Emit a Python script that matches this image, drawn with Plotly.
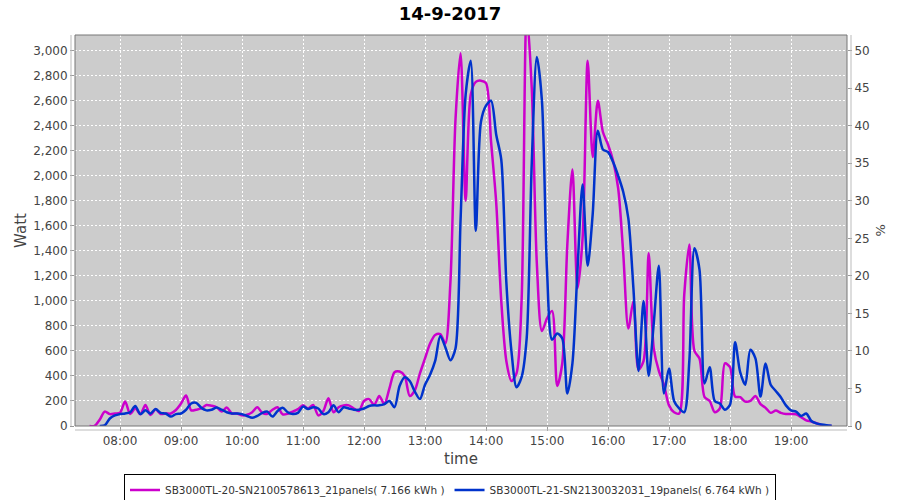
import plotly.graph_objects as go

DAY = "2017-09-14 "

times = [
    "07:30", "07:35", "07:40", "07:45", "07:50", "07:55",
    "08:00", "08:05", "08:10", "08:15", "08:20", "08:25", "08:30", "08:35", "08:40", "08:45", "08:50", "08:55",
    "09:00", "09:05", "09:10", "09:15", "09:20", "09:25", "09:30", "09:35", "09:40", "09:45", "09:50", "09:55",
    "10:00", "10:05", "10:10", "10:15", "10:20", "10:25", "10:30", "10:35", "10:40", "10:45", "10:50", "10:55",
    "11:00", "11:05", "11:10", "11:15", "11:20", "11:25", "11:30", "11:35", "11:40", "11:45", "11:50", "11:55",
    "12:00", "12:05", "12:10", "12:15", "12:20", "12:25", "12:30", "12:35", "12:40", "12:45", "12:50", "12:55",
    "13:00", "13:05", "13:10", "13:15", "13:20", "13:25", "13:30", "13:35", "13:40", "13:45", "13:50", "13:55",
    "14:00", "14:05", "14:10", "14:15", "14:20", "14:25", "14:30", "14:35", "14:40", "14:45", "14:50", "14:55",
    "15:00", "15:05", "15:10", "15:15", "15:20", "15:25", "15:30", "15:35", "15:40", "15:45", "15:50", "15:55",
    "16:00", "16:05", "16:10", "16:15", "16:20", "16:25", "16:30", "16:35", "16:40", "16:45", "16:50", "16:55",
    "17:00", "17:05", "17:10", "17:15", "17:20", "17:25", "17:30", "17:35", "17:40", "17:45", "17:50", "17:55",
    "18:00", "18:05", "18:10", "18:15", "18:20", "18:25", "18:30", "18:35", "18:40", "18:45", "18:50", "18:55",
    "19:00", "19:05", "19:10", "19:15", "19:20", "19:25", "19:30", "19:35", "19:40",
]

# SB3000TL-20 (magenta), watts
sb20_watt = [
    0, 0, 50, 115, 95, 100,
    105, 195, 96, 141, 93, 168, 88, 133, 96, 100, 100, 128,
    180, 243, 125, 130, 140, 168, 162, 150, 115, 147, 100, 100,
    85, 90, 110, 150, 105, 98, 130, 150, 93, 98, 115, 135,
    165, 140, 168, 85, 120, 221, 110, 150, 165, 165, 140, 120,
    200, 215, 168, 240, 175, 300, 430, 435, 400, 240, 285, 420,
    540, 660, 728, 735, 660, 1150, 2450, 2980, 1800, 2650, 2750, 2760,
    2740, 2270, 1790, 1000, 520, 360, 420, 1000, 3300, 2700, 1300, 760,
    860, 920, 320, 500, 1450, 2050, 1100, 1500, 2920, 2150, 2600, 2350,
    2250, 2120, 1900, 1380, 780, 1000, 450, 520, 1380, 620, 440, 330,
    165, 110, 100, 1050, 1450, 600, 540, 230, 200, 110, 140, 500,
    470, 235, 230, 195, 200, 240, 175, 145, 105, 123, 105, 96,
    96, 94, 70, 45, 36, 22, 8, 0, 0,
]

# SB3000TL-21 (blue), watts
sb21_watt = [
    None, None, 0, 5, 60, 85,
    95, 100, 110, 160, 95, 125, 100, 135, 105, 100, 75, 95,
    100, 130, 180, 185, 145, 125, 130, 147, 130, 110, 100, 100,
    95, 80, 65, 80, 105, 115, 75, 120, 145, 110, 95, 105,
    155, 135, 150, 140, 95, 110, 165, 110, 150, 140, 130, 130,
    140, 160, 165, 165, 175, 200, 150, 320, 390, 360, 275, 215,
    330, 410, 520, 720, 630, 525, 620, 1650, 2650, 2920, 1560, 2430,
    2560, 2600, 2330, 2130, 1150, 600, 310, 390, 700, 2100, 2950, 2600,
    1250, 690, 740, 700, 260, 500, 1250, 1930, 1280, 1700, 2360, 2210,
    2190, 2110, 2000, 1870, 1660, 1100, 440, 1000, 400, 820, 1280, 260,
    460, 200, 140, 110, 520, 1420, 1250, 340, 470, 200, 180, 130,
    170, 670, 430, 330, 610, 540, 235, 500, 330, 280, 230, 165,
    125, 115, 80, 100, 40, 21, 12, 6, 2,
]

series_names = [
    "SB3000TL-20-SN2100578613_21panels( 7.166 kWh )",
    "SB3000TL-21-SN2130032031_19panels( 6.764 kWh )",
]
title_text = "14-9-2017"
right_axis_label = "%"

x_vals = [DAY + t for t in times]

MAGENTA = "#CC00CC"
BLUE = "#0033CC"

fig = go.Figure()
fig.add_trace(go.Scatter(
    x=x_vals, y=sb20_watt, name=series_names[0], mode="lines",
    line=dict(color=MAGENTA, width=2.5, shape="spline", smoothing=0.8),
    connectgaps=False,
))
fig.add_trace(go.Scatter(
    x=x_vals, y=sb21_watt, name=series_names[1], mode="lines",
    line=dict(color=BLUE, width=2.5, shape="spline", smoothing=0.8),
    connectgaps=False,
))
# invisible trace to carry the right-hand % axis
fig.add_trace(go.Scatter(x=[x_vals[0]], y=[0], yaxis="y2", mode="lines",
                         showlegend=False, hoverinfo="skip",
                         line=dict(color="rgba(0,0,0,0)")))

axis_font = dict(family="DejaVu Sans", size=12, color="#444444")
GRID_DASH = "2px,2px"

fig.update_layout(
    width=900, height=500,
    paper_bgcolor="white",
    plot_bgcolor="#CCCCCC",
    margin=dict(l=75, r=53, t=35, b=74, autoexpand=False),
    title=dict(text="<b>" + title_text + "</b>", x=0.5, xanchor="center",
               y=1 - 14 / 500, yanchor="middle",
               font=dict(family="DejaVu Sans", size=18, color="black")),
    font=dict(family="DejaVu Sans", size=12, color="#444444"),
    xaxis=dict(
        type="date",
        range=[DAY + "07:15:44", DAY + "19:55:05"],
        dtick=3600000, tickformat="%H:%M",
        tickfont=axis_font,
        showgrid=True, gridcolor="white", griddash=GRID_DASH, gridwidth=1,
        ticks="outside", ticklen=4, tickcolor="#999999",
        showline=False, zeroline=False, automargin=False,
        title=dict(text="time", font=dict(family="DejaVu Sans", size=15, color="#444444"), standoff=6),
    ),
    yaxis=dict(
        range=[0, 3125], dtick=200, tickformat=",d",
        tickfont=axis_font,
        showgrid=True, gridcolor="white", griddash=GRID_DASH, gridwidth=1,
        ticks="outside", ticklen=4, tickcolor="#999999",
        showline=False, zeroline=False, automargin=False,
        title=dict(text="Watt", font=dict(family="DejaVu Sans", size=15, color="#444444"), standoff=2),
    ),
    yaxis2=dict(
        overlaying="y", side="right",
        range=[0, 52.083], dtick=5,
        tickfont=axis_font,
        showgrid=False, zeroline=False, automargin=False,
        ticks="outside", ticklen=4, tickcolor="#999999",
        showline=False,
    ),
    annotations=[
        dict(text=right_axis_label, xref="paper", yref="paper",
             x=(880 - 75) / 772, y=0.5, xanchor="center", yanchor="middle",
             textangle=-90, showarrow=False,
             font=dict(family="DejaVu Sans", size=13, color="#444444")),
    ],
    legend=dict(
        orientation="h", xref="container", x=0.5, xanchor="center",
        y=-0.124, yanchor="top",
        bordercolor="black", borderwidth=1, bgcolor="white",
        font=dict(family="DejaVu Sans", size=10.5, color="#333333"),
        itemwidth=30, tracegroupgap=0,
    ),
    shapes=[
        dict(type="rect", xref="paper", yref="paper", x0=0, y0=0, x1=1, y1=1,
             line=dict(color="#777777", width=1), fillcolor="rgba(0,0,0,0)", layer="above"),
        dict(type="line", xref="paper", yref="paper", x0=-4 / 772, x1=-4 / 772, y0=0, y1=1,
             line=dict(color="#BBBBBB", width=1)),
        dict(type="line", xref="paper", yref="paper", x0=1 + 4 / 772, x1=1 + 4 / 772, y0=0, y1=1,
             line=dict(color="#BBBBBB", width=1)),
        dict(type="line", xref="paper", yref="paper", x0=0, x1=1, y0=-4 / 391, y1=-4 / 391,
             line=dict(color="#BBBBBB", width=1)),
    ],
    showlegend=True,
)

fig.write_html("out.html", config={"displayModeBar": False},
               post_script="document.body.style.margin='0';")
